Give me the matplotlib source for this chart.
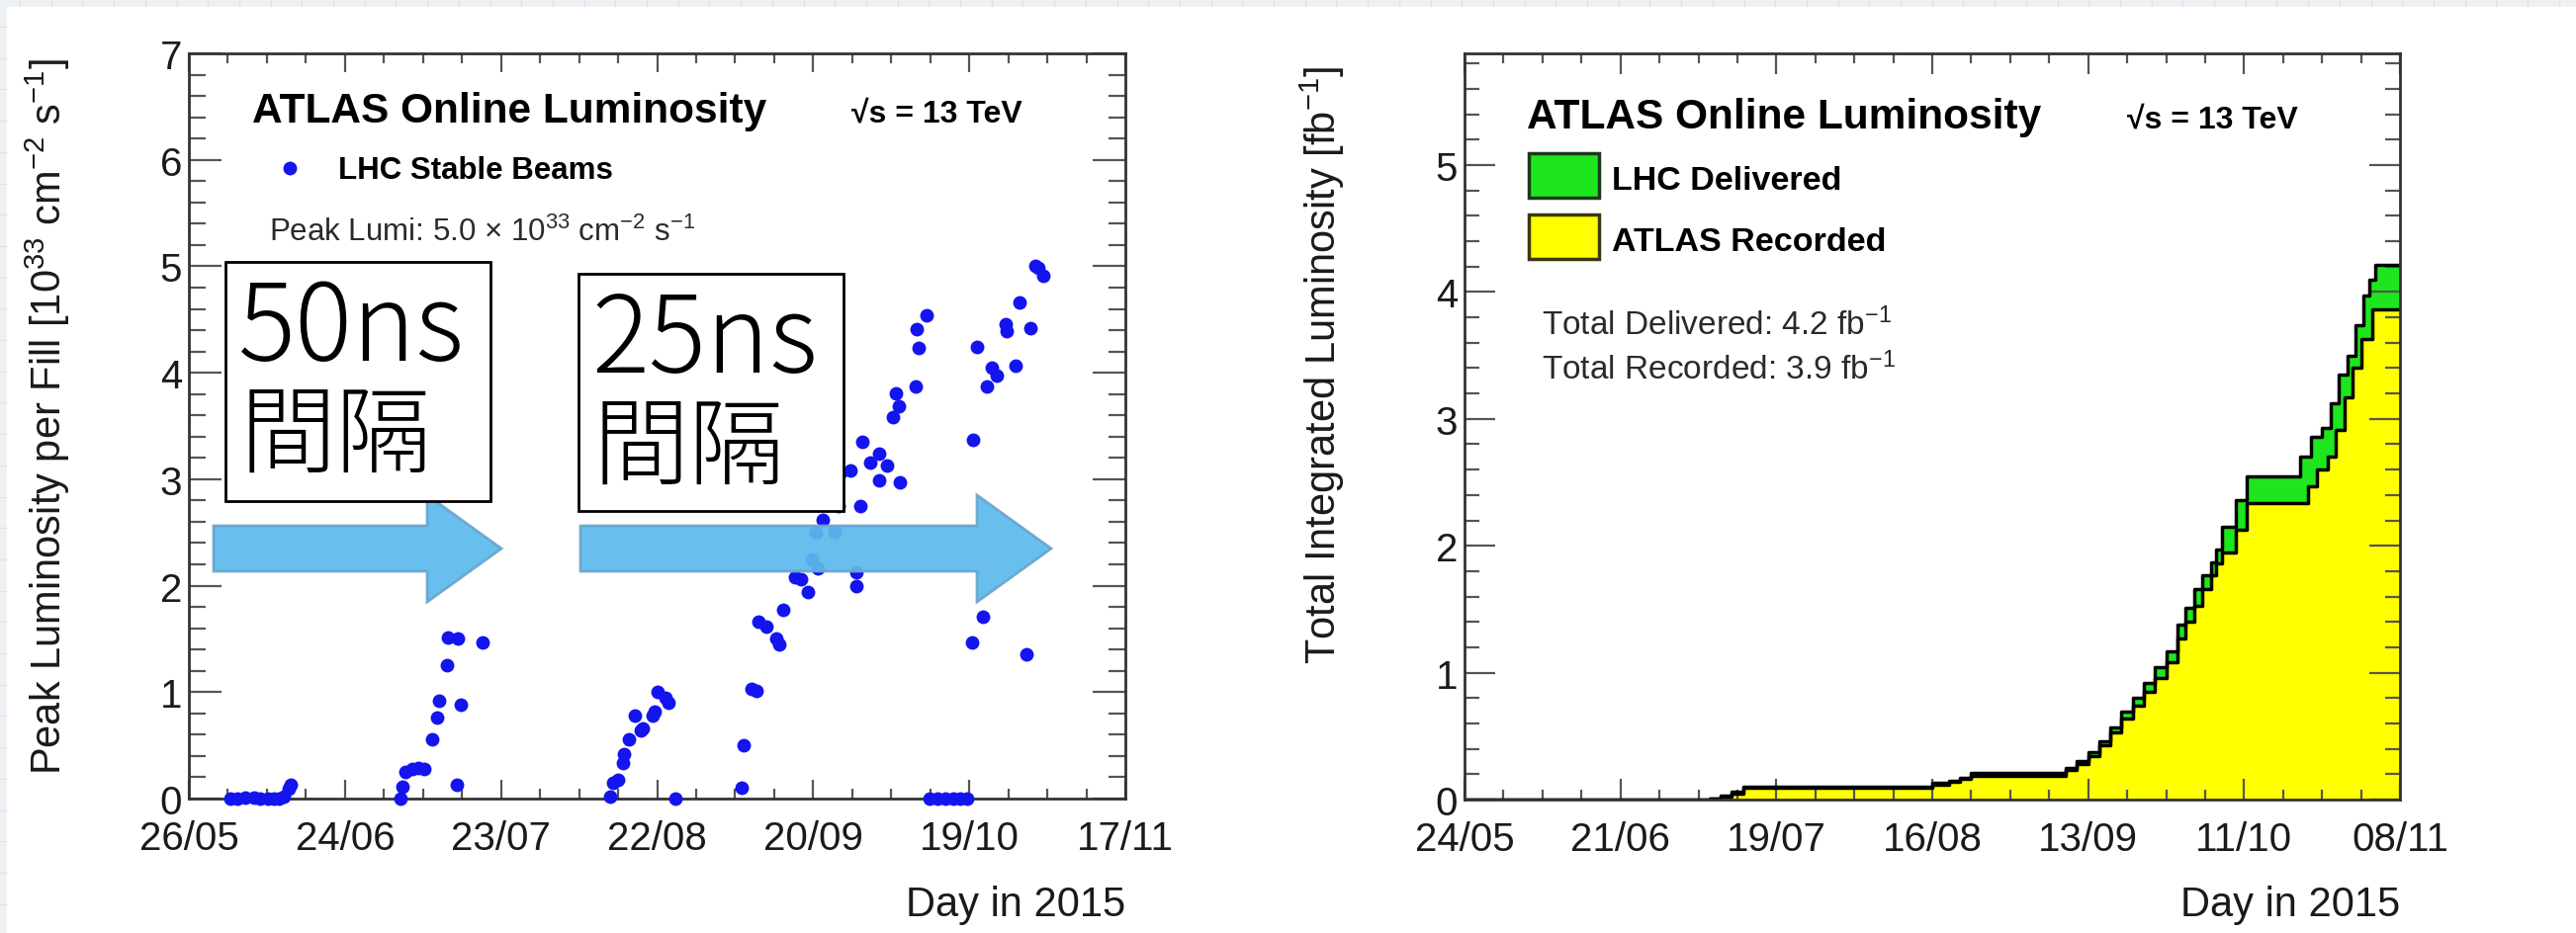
import numpy as np
import matplotlib
matplotlib.use("Agg")
import matplotlib.pyplot as plt
from matplotlib.patches import Rectangle, Polygon
from matplotlib.lines import Line2D
from matplotlib.ticker import FixedLocator, MultipleLocator

plt.rcParams["font.family"] = ["Liberation Sans", "DejaVu Sans"]
plt.rcParams["mathtext.fontset"] = "custom"
plt.rcParams["mathtext.rm"] = "Liberation Sans"
plt.rcParams["mathtext.it"] = "Liberation Sans:italic"
plt.rcParams["mathtext.bf"] = "Liberation Sans:bold"

W, H = 2605, 945

# ---- left panel: peak luminosity per fill (day of year 2015, 1e33 cm-2 s-1)
fill_day = [153.8, 155.0, 156.5, 158.2, 159.3, 160.8, 161.8, 162.8, 163.8, 164.6, 165.0,
            185.5, 185.9, 186.5, 187.7, 188.9, 189.9, 191.5, 192.4, 192.8, 194.2, 194.5,
            196.3, 196.0, 196.8, 200.8,
            224.7, 225.3, 226.2, 227.1, 227.4, 228.3, 229.3, 230.5, 230.8, 232.7, 233.0,
            233.6, 235.1, 235.7, 237.0,
            249.3, 249.6, 251.2, 252.1, 252.4, 253.9, 255.8, 256.4, 257.0, 259.2, 260.4,
            261.6, 262.5, 263.5, 263.2, 264.4, 266.6, 267.4, 267.8, 269.6, 270.8, 270.8,
            271.5, 271.9, 273.3, 274.9, 274.9, 276.4, 277.6, 278.1, 278.7, 278.9, 281.8,
            282.1, 282.4, 283.9,
            284.4, 285.9, 287.3, 288.8, 290.2, 291.5,
            292.4, 292.6, 293.3, 294.3, 295.1, 296.1, 297.0, 298.6, 298.9, 300.4, 301.2,
            302.6, 303.2, 304.1, 304.7, 305.7]
peak_lumi = [0.0, 0.0, 0.01, 0.01, 0.0, 0.0, 0.0, 0.0, 0.02, 0.09, 0.13,
             0.0, 0.11, 0.25, 0.28, 0.29, 0.28, 0.56, 0.76, 0.92, 1.25, 1.51,
             1.50, 0.13, 0.88, 1.47,
             0.02, 0.15, 0.18, 0.33, 0.42, 0.56, 0.78, 0.64, 0.66, 0.78, 0.82,
             1.00, 0.95, 0.90, 0.0,
             0.10, 0.50, 1.03, 1.01, 1.66, 1.62, 1.50, 1.45, 1.77, 2.08, 2.06,
             1.94, 2.25, 2.16, 2.50, 2.62, 2.51, 2.75, 3.06, 3.08, 2.13, 2.00,
             2.75, 3.35, 3.16, 3.24, 2.99, 3.13, 3.58, 3.81, 3.69, 2.97, 3.87,
             4.41, 4.23, 4.54,
             0.0, 0.0, 0.0, 0.0, 0.0, 0.0,
             1.47, 3.37, 4.24, 1.71, 3.87, 4.05, 3.97, 4.46, 4.39, 4.07, 4.66,
             1.36, 4.42, 5.00, 4.99, 4.91]
left_xlim = (146, 321)
left_ticklabels = ["26/05", "24/06", "23/07", "22/08", "20/09", "19/10", "17/11"]

# ---- right panel: cumulative integrated luminosity (fb-1)
del_days = [144, 163, 188, 190, 192, 194, 226, 228, 231, 233, 235, 250, 252, 254, 256, 258,
            260, 262, 264, 266, 268, 270, 272, 273.5, 275, 276.5, 278, 279, 280, 282.5,
            284.5, 293, 294, 296, 298, 299.5, 301, 302.5, 304, 305.5, 306.5, 307.5, 312]
del_lumi = [0.0, 0.003, 0.01, 0.03, 0.06, 0.10, 0.10, 0.13, 0.15, 0.17, 0.21, 0.21, 0.25,
            0.30, 0.37, 0.46, 0.57, 0.69, 0.80, 0.92, 1.04, 1.17, 1.38, 1.51, 1.66, 1.77,
            1.87, 1.97, 2.15, 2.36, 2.55, 2.55, 2.70, 2.86, 2.93, 3.12, 3.35, 3.50, 3.74,
            3.97, 4.10, 4.21, 4.21]
rec_days = [144, 163, 188, 190, 192, 194, 226, 228, 231, 233, 235, 250, 252, 254, 256, 258,
            260, 262, 264, 266, 268, 270, 272, 273.5, 275, 276.5, 278, 279, 280, 282.5,
            284.5, 293.5, 295.5, 297, 299, 300.5, 302, 303.5, 305, 307, 312]
rec_lumi = [0.0, 0.002, 0.008, 0.025, 0.05, 0.09, 0.09, 0.12, 0.14, 0.16, 0.19, 0.19, 0.23,
            0.28, 0.34, 0.43, 0.53, 0.64, 0.74, 0.85, 0.96, 1.08, 1.27, 1.40, 1.53, 1.66,
            1.77, 1.86, 1.95, 2.13, 2.34, 2.34, 2.47, 2.60, 2.70, 2.91, 3.17, 3.40, 3.63,
            3.86, 3.86]
right_xlim = (144, 312)
right_ticklabels = ["24/05", "21/06", "19/07", "16/08", "13/09", "11/10", "08/11"]

fig = plt.figure(figsize=(W / 100, H / 100), dpi=100)

# slide background (grid paper strip at top/left edge)
bg = fig.add_axes([0, 0, 1, 1], zorder=-10)
bg.set_xlim(0, W)
bg.set_ylim(H, 0)
bg.axis("off")
bg.add_patch(Rectangle((0, 0), W, H, color="#eef1f4", zorder=0))
for gx in np.arange(20, W, 31.7):
    bg.axvline(gx, color="#dbe2ea", lw=1, zorder=1)
for gy in np.arange(28, H, 31.7):
    bg.axhline(gy, color="#dbe2ea", lw=1, zorder=1)
bg.add_patch(Rectangle((7, 8), W, H, color="white", zorder=3))


def style_axes(ax, xlim, labels, xminor, ylim, ylen, xlen):
    ax.set_xlim(*xlim)
    ax.set_ylim(*ylim)
    ax.xaxis.set_major_locator(FixedLocator(np.linspace(xlim[0], xlim[1], 7)))
    ax.set_xticklabels(labels)
    ax.xaxis.set_minor_locator(FixedLocator(np.linspace(xlim[0], xlim[1], xminor)))
    ax.yaxis.set_major_locator(MultipleLocator(1))
    ax.yaxis.set_minor_locator(MultipleLocator(0.2))
    for s in ax.spines.values():
        s.set_color("#333333")
        s.set_linewidth(2)
    ax.tick_params(which="both", direction="in", top=True, right=True,
                   color="#555555", width=1.6, labelsize=29, labelcolor="#1a1a1a")
    ax.tick_params(axis="y", which="major", length=ylen[0], pad=5)
    ax.tick_params(axis="y", which="minor", length=ylen[1])
    ax.tick_params(axis="x", which="major", length=xlen[0], pad=15)
    ax.tick_params(axis="x", which="minor", length=xlen[1])


ax1 = fig.add_axes([191 / W, 1 - 809 / H, (1138 - 191) / W, (809 - 55) / H])
style_axes(ax1, left_xlim, left_ticklabels, 25, (0, 7), (24, 12), (14, 7))
ax1.plot(fill_day, peak_lumi, "o", ms=10, mew=0, color="#1414ee", clip_on=False, zorder=5)

ax2 = fig.add_axes([1481 / W, 1 - 810 / H, (2427 - 1481) / W, (810 - 55) / H])
style_axes(ax2, right_xlim, right_ticklabels, 25, (0, 5.88), (22, 11), (15, 7))
ax2.fill_between(del_days, del_lumi, step="post", color="#1ee61e", lw=0)
ax2.fill_between(rec_days, rec_lumi, step="post", color="#ffff00", lw=0)
ax2.step(del_days, del_lumi, where="post", color="black", lw=2.5)
ax2.step(rec_days, rec_lumi, where="post", color="black", lw=2.5)

# overlay in pixel coordinates (top-left origin)
ov = fig.add_axes([0, 0, 1, 1], zorder=10)
ov.set_xlim(0, W)
ov.set_ylim(H, 0)
ov.axis("off")
ov.patch.set_alpha(0)

# axis titles
ov.text(48, 422, "Peak Luminosity per Fill [10$^{33}$ cm$^{-2}$ s$^{-1}$]", rotation=90,
        ha="center", va="center", fontsize=30, color="#1a1a1a")
ov.text(1337, 369, "Total Integrated Luminosity [fb$^{-1}$]", rotation=90,
        ha="center", va="center", fontsize=30, color="#1a1a1a")
ov.text(1138, 927, "Day in 2015", ha="right", va="baseline", fontsize=30, color="#1a1a1a")
ov.text(2427, 927, "Day in 2015", ha="right", va="baseline", fontsize=30, color="#1a1a1a")

# left panel labels
ov.text(255, 124, "ATLAS Online Luminosity", fontsize=30.5, fontweight="bold", va="baseline")
ov.text(861, 124, "√s = 13 TeV", fontsize=23, fontweight="bold", va="baseline")
ov.add_line(Line2D([293], [171], marker="o", ms=10, mew=0, color="#1414ee"))
ov.text(342, 181, "LHC Stable Beams", fontsize=22.5, fontweight="bold", va="baseline")
ov.text(272, 244, "Peak Lumi: 5.0 × 10$^{33}$ cm$^{-2}$ s$^{-1}$", fontsize=22.5,
        va="baseline", color="#2a2a2a")

# right panel labels
ov.text(1544, 130, "ATLAS Online Luminosity", fontsize=30.5, fontweight="bold", va="baseline")
ov.text(2151, 130, "√s = 13 TeV", fontsize=23, fontweight="bold", va="baseline")
ov.add_patch(Rectangle((1546, 156), 71, 45, facecolor="#1ee61e", edgecolor="#1a3a1a", lw=2.5))
ov.add_patch(Rectangle((1546, 218), 71, 45, facecolor="#ffff00", edgecolor="#3a3a10", lw=2.5))
ov.text(1630, 192, "LHC Delivered", fontsize=24.5, fontweight="bold", va="baseline")
ov.text(1630, 254, "ATLAS Recorded", fontsize=24.5, fontweight="bold", va="baseline")
ov.text(1559, 339, "Total Delivered: 4.2 fb$^{-1}$", fontsize=24, va="baseline", color="#2a2a2a")
ov.text(1559, 384, "Total Recorded: 3.9 fb$^{-1}$", fontsize=24, va="baseline", color="#2a2a2a")


# slide annotations: arrows and bunch-spacing boxes
def arrow(x0, x1, yc):
    return [(x0, yc - 23), (x1 - 75, yc - 23), (x1 - 75, yc - 54), (x1, yc),
            (x1 - 75, yc + 54), (x1 - 75, yc + 23), (x0, yc + 23)]


for x0, x1 in [(216, 507), (587, 1063)]:
    ov.add_patch(Polygon(arrow(x0, x1, 556), closed=True, facecolor="#5dbaec",
                         edgecolor="#6aa5cf", lw=2, alpha=0.93))

jp = ["Noto Sans CJK JP", "DejaVu Sans"]
for (bx, by, bh), label in zip([(228, 266, 242), (585, 278, 240)], ["50ns", "25ns"]):
    ov.add_patch(Rectangle((bx, by), 268, bh, facecolor="white", edgecolor="black", lw=2))
    ov.text(bx + 13, by + 99, label, fontsize=78, family=jp, fontweight="light",
            va="baseline")
    ov.text(bx + 15, by + 178, "間隔", fontsize=70, family=jp, fontweight="light",
            va="center")

fig.savefig("out.png", dpi=100)
